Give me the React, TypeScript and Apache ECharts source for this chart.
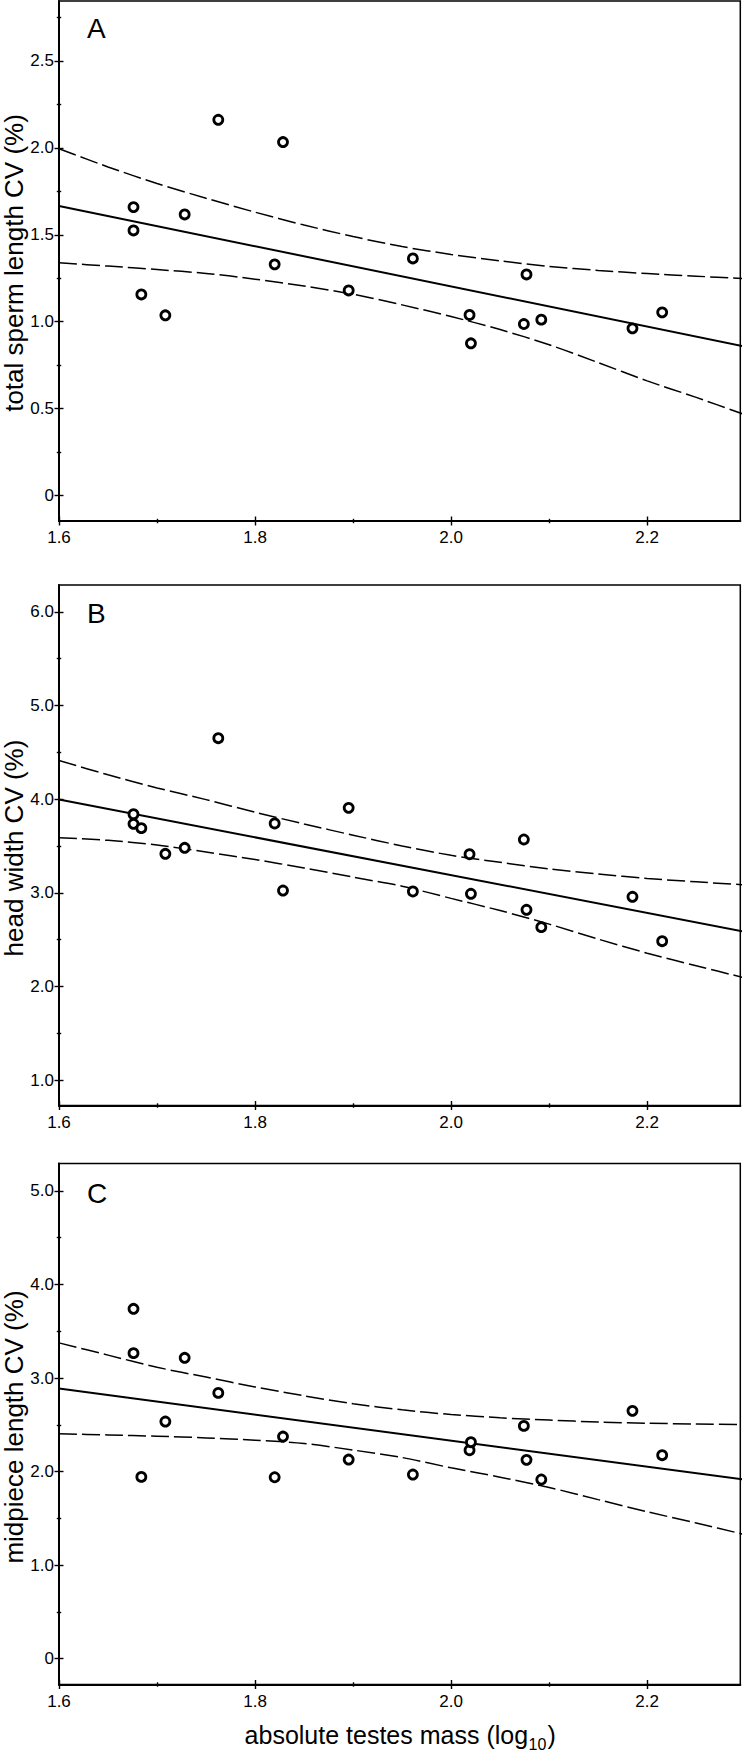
import React, { useEffect, useRef } from "react";
import * as echarts from "echarts";

// ---------- data ----------
// log10 absolute testes mass of each species (same species in all panels)
const speciesMass = [1.676, 1.676, 1.684, 1.7085, 1.7282, 1.7625, 1.82, 1.8285, 1.8955, 1.961, 2.0188, 2.0202, 2.0742, 2.0769, 2.092, 2.185, 2.2153];
// panel A: total sperm length CV (%)
const totalLengthCV = [1.659, 1.525, 1.157, 1.037, 1.617, 2.161, 1.33, 2.033, 1.18, 1.364, 1.039, 0.876, 0.987, 1.272, 1.012, 0.962, 1.054];
// panel B: head width CV (%)
const headWidthCV = [3.839, 3.736, 3.69, 3.416, 3.48, 4.651, 3.74, 3.024, 3.907, 3.014, 3.412, 2.989, 3.569, 2.818, 2.633, 2.957, 2.483];
// panel C: midpiece length CV (%)
const midpieceCV = [3.74, 3.266, 1.943, 2.535, 3.216, 2.841, 1.939, 2.374, 2.128, 1.968, 2.228, 2.314, 2.488, 2.125, 1.915, 2.649, 2.175];

// regression lines (end points)
const fitX = [1.6, 2.3];
const fitA = [1.665, 0.857];
const fitB = [3.996, 2.583];
const fitC = [2.888, 1.912];

// confidence band curves
const bandX = [1.6, 1.65, 1.7, 1.75, 1.8, 1.85, 1.9, 1.95, 2.0, 2.05, 2.1, 2.15, 2.2, 2.25, 2.3];
const upperA = [1.995, 1.89, 1.795, 1.71, 1.63, 1.556, 1.49, 1.432, 1.387, 1.35, 1.318, 1.295, 1.277, 1.262, 1.248];
const lowerA = [1.339, 1.32, 1.3, 1.278, 1.245, 1.205, 1.158, 1.097, 1.03, 0.955, 0.868, 0.765, 0.66, 0.565, 0.465];
const upperB = [4.413, 4.26, 4.12, 3.995, 3.86, 3.735, 3.615, 3.5, 3.4, 3.325, 3.255, 3.2, 3.153, 3.117, 3.084];
const lowerB = [3.587, 3.56, 3.51, 3.435, 3.355, 3.265, 3.167, 3.07, 2.94, 2.81, 2.665, 2.505, 2.355, 2.22, 2.09];
const upperC = [3.376, 3.245, 3.115, 3.01, 2.905, 2.81, 2.725, 2.66, 2.61, 2.575, 2.55, 2.53, 2.517, 2.508, 2.503];
const lowerC = [2.403, 2.392, 2.378, 2.36, 2.335, 2.3, 2.23, 2.15, 2.04, 1.94, 1.83, 1.7, 1.57, 1.45, 1.325];

// tick values
const xMajorTicks = [1.6, 1.8, 2.0, 2.2];
const xMinorTicks = [1.7, 1.9, 2.1];
const aMajorTicks = [0, 0.5, 1.0, 1.5, 2.0, 2.5];
const aMinorTicks = [0.25, 0.75, 1.25, 1.75, 2.25, 2.75];
const bMajorTicks = [1, 2, 3, 4, 5, 6];
const bMinorTicks = [1.5, 2.5, 3.5, 4.5, 5.5];
const cMajorTicks = [0, 1, 2, 3, 4, 5];
const cMinorTicks = [0.5, 1.5, 2.5, 3.5, 4.5];

const panelLetters = ["A", "B", "C"];
const yTitles = ["total sperm length CV (%)", "head width CV (%)", "midpiece length CV (%)"];

const FONT = '"Liberation Sans", Arial, Helvetica, sans-serif';

const W = 742;
const H = 1751;
const GRID_LEFT = 59;
const GRID_RIGHT = 1.7;
const X_MIN = 1.6;
const X_MAX = 2.295;

const panels = [
  { top: 1, height: 520, yMin: -0.1455, yMax: 2.844, major: aMajorTicks, minor: aMinorTicks, ys: totalLengthCV, fit: fitA, upper: upperA, lower: lowerA, titleY: 263, letterY: 28 },
  { top: 585, height: 520.5, yMin: 0.728, yMax: 6.287, major: bMajorTicks, minor: bMinorTicks, ys: headWidthCV, fit: fitB, upper: upperB, lower: lowerB, titleY: 848, letterY: 613.5 },
  { top: 1163.4, height: 521.1, yMin: -0.277, yMax: 5.295, major: cMajorTicks, minor: cMinorTicks, ys: midpieceCV, fit: fitC, upper: upperC, lower: lowerC, titleY: 1427, letterY: 1193 },
];

const fmtY = (v: number) => (Math.abs(v) < 1e-9 ? "0" : v.toFixed(1));
const fmtX = (v: number) => v.toFixed(1);

function axisSet(dim: "x" | "y", gridIndex: number, min: number, max: number, major: number[], minor: number[], fmt: (v: number) => string) {
  const base: any = {
    type: "value",
    gridIndex,
    min,
    max,
    position: dim === "x" ? "bottom" : "left",
    splitLine: { show: false },
    splitArea: { show: false },
  };
  const line = { show: true, onZero: false, lineStyle: { color: "#000", width: 2 } };
  const noLine = { show: false, onZero: false };
  const tickStyle = { color: "#000", width: 1.4 };
  return [
    {
      ...base,
      axisLine: line,
      axisTick: { show: true, inside: false, length: 4.5, customValues: major, lineStyle: tickStyle },
      axisLabel: {
        show: true,
        customValues: major,
        formatter: fmt,
        margin: dim === "x" ? 8 : 5,
        fontSize: 17,
        color: "#000",
        fontFamily: FONT,
        hideOverlap: false,
        showMinLabel: true,
        showMaxLabel: true,
      },
    },
    { ...base, axisLine: noLine, axisTick: { show: true, inside: true, length: 4.5, customValues: major, lineStyle: tickStyle }, axisLabel: { show: false } },
    { ...base, axisLine: noLine, axisTick: { show: true, inside: false, length: 2.2, customValues: minor, lineStyle: tickStyle }, axisLabel: { show: false } },
    { ...base, axisLine: noLine, axisTick: { show: true, inside: true, length: 2.2, customValues: minor, lineStyle: tickStyle }, axisLabel: { show: false } },
  ];
}

function buildOption() {
  const grid: any[] = [];
  const xAxis: any[] = [];
  const yAxis: any[] = [];
  const series: any[] = [];
  const graphic: any[] = [];

  panels.forEach((p, g) => {
    grid.push({
      left: GRID_LEFT,
      right: GRID_RIGHT,
      top: p.top,
      height: p.height,
      show: true,
      borderColor: "#000",
      borderWidth: 1.5,
      backgroundColor: "transparent",
      containLabel: false,
    });
    xAxis.push(...axisSet("x", g, X_MIN, X_MAX, xMajorTicks, xMinorTicks, fmtX));
    yAxis.push(...axisSet("y", g, p.yMin, p.yMax, p.major, p.minor, fmtY));

    const ax = g * 4;
    const dashed = { color: "#000", width: 1.5, type: [18, 5] };
    series.push({
      type: "line",
      xAxisIndex: ax,
      yAxisIndex: ax,
      data: bandX.map((x, i) => [x, p.upper[i]]),
      smooth: 0.3,
      showSymbol: false,
      symbol: "none",
      lineStyle: dashed,
      z: 2,
      silent: true,
    });
    series.push({
      type: "line",
      xAxisIndex: ax,
      yAxisIndex: ax,
      data: bandX.map((x, i) => [x, p.lower[i]]),
      smooth: 0.3,
      showSymbol: false,
      symbol: "none",
      lineStyle: dashed,
      z: 2,
      silent: true,
    });
    series.push({
      type: "line",
      xAxisIndex: ax,
      yAxisIndex: ax,
      data: fitX.map((x, i) => [x, p.fit[i]]),
      showSymbol: false,
      symbol: "none",
      lineStyle: { color: "#000", width: 2 },
      z: 3,
      silent: true,
    });
    series.push({
      type: "scatter",
      xAxisIndex: ax,
      yAxisIndex: ax,
      data: speciesMass.map((x, i) => [x, p.ys[i]]),
      symbol: "circle",
      symbolSize: 9,
      itemStyle: { color: "#fff", borderColor: "#000", borderWidth: 2.8, opacity: 1 },
      z: 5,
      silent: true,
    });

    graphic.push({
      type: "text",
      x: 14,
      y: p.titleY,
      rotation: Math.PI / 2,
      silent: true,
      style: {
        text: yTitles[g],
        x: 0,
        y: 0,
        font: `26px ${FONT}`,
        fill: "#000",
        textAlign: "center",
        align: "center",
        textVerticalAlign: "middle",
        verticalAlign: "middle",
      },
    });
    graphic.push({
      type: "text",
      x: 87,
      y: p.letterY,
      silent: true,
      style: {
        text: panelLetters[g],
        x: 0,
        y: 0,
        font: `28px ${FONT}`,
        fill: "#000",
        textAlign: "left",
        align: "left",
        textVerticalAlign: "middle",
        verticalAlign: "middle",
      },
    });
  });

  // x axis title with subscript
  graphic.push({
    type: "text",
    x: 244.6,
    y: 1734.6,
    silent: true,
    style: { text: "absolute testes mass (log", x: 0, y: 0, font: `25px ${FONT}`, fill: "#000", textAlign: "left", align: "left", textVerticalAlign: "middle", verticalAlign: "middle" },
  });
  graphic.push({
    type: "text",
    x: 528.5,
    y: 1744,
    silent: true,
    style: { text: "10", x: 0, y: 0, font: `16px ${FONT}`, fill: "#000", textAlign: "left", align: "left", textVerticalAlign: "middle", verticalAlign: "middle" },
  });
  graphic.push({
    type: "text",
    x: 547.5,
    y: 1734.6,
    silent: true,
    style: { text: ")", x: 0, y: 0, font: `25px ${FONT}`, fill: "#000", textAlign: "left", align: "left", textVerticalAlign: "middle", verticalAlign: "middle" },
  });

  return {
    animation: false,
    backgroundColor: "#fff",
    textStyle: { fontFamily: FONT },
    grid,
    xAxis,
    yAxis,
    series,
    graphic,
  };
}

export default function App() {
  const ref = useRef<HTMLDivElement>(null);
  useEffect(() => {
    if (!ref.current) return;
    const chart = echarts.init(ref.current, null, { renderer: "svg", width: W, height: H });
    chart.setOption(buildOption() as any);
    return () => chart.dispose();
  }, []);
  return (
    <div
      ref={ref}
      style={{ position: "absolute", left: 0, top: 0, width: W, height: H, background: "#fff" }}
    />
  );
}
